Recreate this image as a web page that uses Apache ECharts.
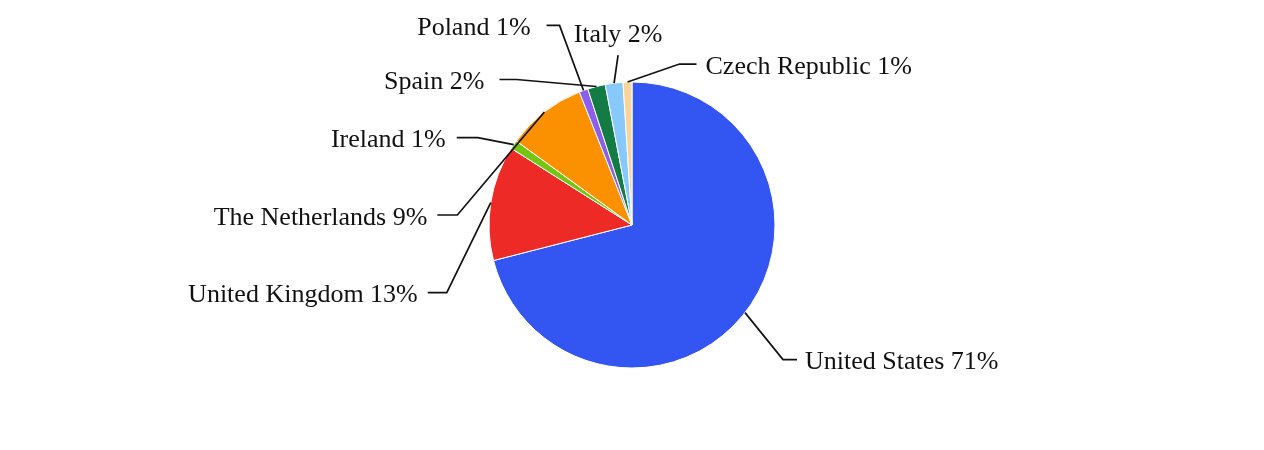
<!DOCTYPE html>
<html>
<head>
<meta charset="utf-8">
<script src="https://cdn.jsdelivr.net/npm/echarts@6/dist/echarts.min.js"></script>
<style>
  html, body { margin: 0; padding: 0; background: #fff; }
  #pie { width: 1264px; height: 450px; }
</style>
</head>
<body>
<div id="pie"></div>
<script>
  // countries, clockwise from 12 o'clock
  var countries = ['United States', 'United Kingdom', 'Ireland', 'The Netherlands', 'Poland', 'Spain', 'Italy', 'Czech Republic']
  var shares = [71, 13, 1, 9, 1, 2, 2, 1]
  var colors = ['#3355f2', '#ee2a27', '#74c414', '#fb9100', '#8d5ee9', '#137c44', '#87c9fa', '#f8d49a']

  // leader line shape per slice: bend offset from the slice edge, tail length, gap to text
  var leaders = [
    { dx: 38, dy: 47, tail: 14, gap: 8 },
    { dx: -44, dy: 90, tail: -19, gap: 10 },
    { dx: -36, dy: -7, tail: -21, gap: 11 },
    { dx: -87, dy: 103, tail: -20, gap: 10 },
    { dx: -24, dy: -65, tail: -13, gap: 16 },
    { dx: -80, dy: -7, tail: -17, gap: 15 },
    { dx: 4, dy: -28, tail: 0, gap: 23 },
    { dx: 52, dy: -18, tail: 17, gap: 9 }
  ]
  var textShift = 3 // serif glyphs sit a little high when middle-aligned

  function placeLabel (params) {
    var l = leaders[params.dataIndex]
    var p0 = params.labelLinePoints[0]
    var bend = [p0[0] + l.dx, p0[1] + l.dy]
    var end = [bend[0] + l.tail, bend[1]]
    if (l.tail === 0) {
      // text sits above the line
      return {
        x: end[0], y: end[1] - l.gap + textShift,
        align: 'center', verticalAlign: 'middle',
        labelLinePoints: [p0, bend, end]
      }
    }
    var right = l.tail > 0
    return {
      x: end[0] + (right ? l.gap : -l.gap), y: end[1] + textShift,
      align: right ? 'left' : 'right', verticalAlign: 'middle',
      labelLinePoints: [p0, bend, end]
    }
  }

  var pieData = countries.map(function (c, i) { return { name: c, value: shares[i] } })

  var chart = echarts.init(document.getElementById('pie'))
  var option = {
    backgroundColor: '#fff',
    color: colors,
    series: [
      {
        // the slices
        type: 'pie',
        center: ['50%', '50%'],
        radius: 143,
        startAngle: 90,
        clockwise: true,
        data: pieData,
        itemStyle: { borderColor: '#fff', borderWidth: 1 },
        label: { show: false },
        labelLine: { show: false },
        emphasis: { disabled: true }
      },
      {
        // same pie, invisible, on top: carries labels so leader lines cross the slices
        type: 'pie',
        z: 3,
        silent: true,
        center: ['50%', '50%'],
        radius: 143,
        startAngle: 90,
        clockwise: true,
        avoidLabelOverlap: false,
        data: pieData,
        itemStyle: { color: 'rgba(0,0,0,0)', borderWidth: 0 },
        label: {
          formatter: function (p) { return p.name + ' ' + Math.round(p.percent) + '%' },
          fontFamily: 'Liberation Serif',
          fontSize: 26,
          color: '#111'
        },
        labelLine: {
          show: true,
          length: 20,
          length2: 10,
          lineStyle: { color: '#111', width: 1.7 }
        },
        labelLayout: placeLabel,
        emphasis: { disabled: true }
      }
    ]
  }
  chart.setOption(option)
</script>
</body>
</html>
